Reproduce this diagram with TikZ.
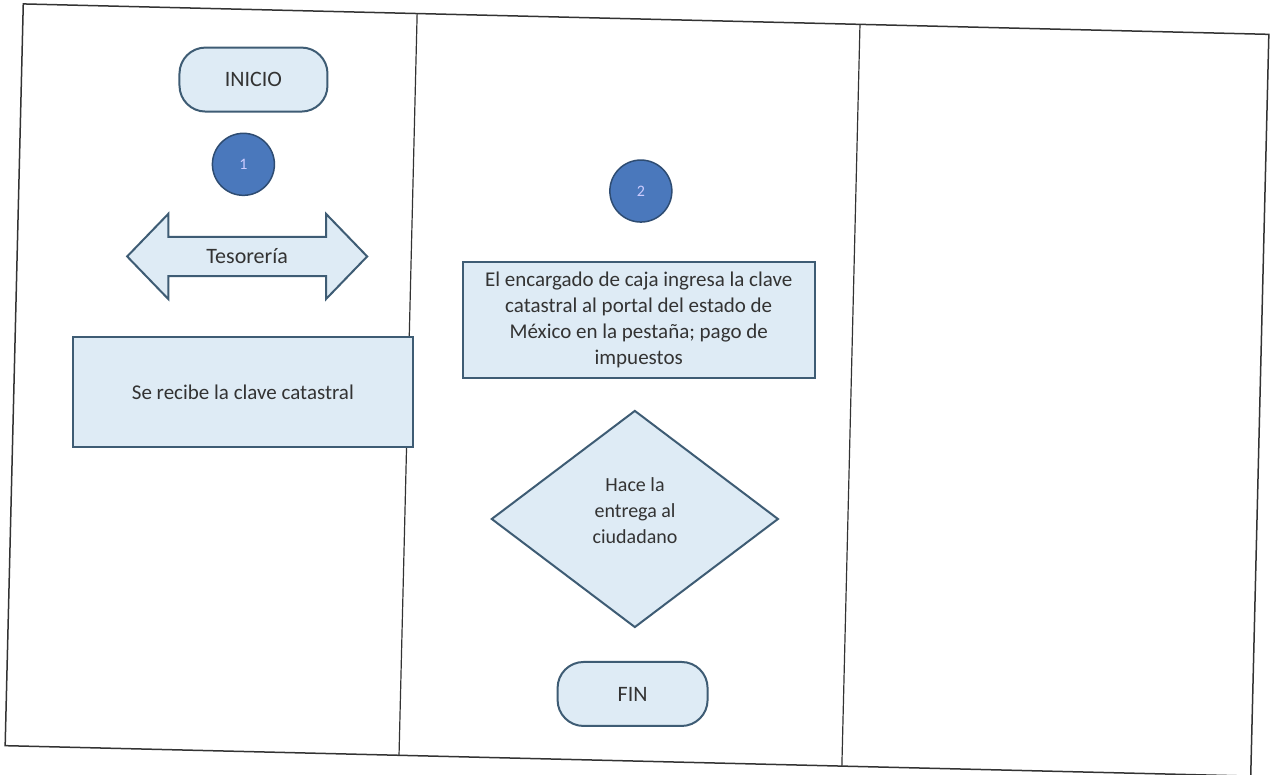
\documentclass[tikz,border=0pt]{standalone}
\usepackage{fontspec}
\setmainfont{Carlito}
\usetikzlibrary{shapes.geometric,shapes.arrows}
\definecolor{boxfill}{HTML}{DEEBF5}
\definecolor{boxline}{HTML}{3E5C74}
\definecolor{dotfill}{HTML}{4A78BC}
\definecolor{dotline}{HTML}{2E4C72}
\definecolor{frameline}{HTML}{333333}
\begin{document}
\begin{tikzpicture}[x=1pt,y=-1pt,
  shapeline/.style={draw=boxline,line width=2pt,fill=boxfill},
  term/.style={shapeline,rounded corners=26pt,minimum width=148pt,minimum height=64pt,font=\fontsize{22}{24}\selectfont,text=black!80},
  procbox/.style={shapeline,rectangle,align=center,font=\fontsize{21}{26}\selectfont,text=black!80},
  dot/.style={circle,draw=dotline,line width=1.5pt,fill=dotfill,minimum size=62pt,inner sep=0,text=white!80!blue,font=\fontsize{16}{18}\selectfont},
  lane/.style={draw=frameline,line width=1.5pt}]
\useasboundingbox (0,0) rectangle (1274,774);
\fill[white] (0,0) rectangle (1274,774);
\begin{scope}[rotate around={-1.4:(637,390)}]
  % frame and lanes
  \draw[lane] (14,19) rectangle (1260,761);
  \draw[lane,line width=1.2pt] (408,19) -- (408,761);
  \draw[lane,line width=1.2pt] (851,19) -- (851,761);
  % lane 1
  \node[term] (inicio) at (246,89) {INICIO};
  \node[dot] (n1) at (238,174) {1};
  \node[double arrow,shapeline,minimum height=240pt,inner xsep=2pt,inner ysep=11pt,
        double arrow head extend=23pt,double arrow tip angle=92,
        font=\fontsize{22}{24}\selectfont,text=black!80] (tes) at (244,266) {Tesorería};
  \node[procbox,minimum width=340pt,minimum height=110pt] (recibe) at (243,402) {Se recibe la clave catastral};
  % lane 2
  \node[dot] (n2) at (636,191) {2};
  \node[procbox,minimum width=352pt,minimum height=116pt] (ingresa) at (637,320)
    {El encargado de caja ingresa la clave\\catastral al portal del estado de\\México en la pestaña; pago de\\impuestos};
  \node[diamond,shapeline,minimum width=287pt,minimum height=217pt,inner sep=0] (entrega) at (638,519) {};
  \node[align=center,font=\fontsize{20}{26}\selectfont,text=black!80] (entregatxt) at (638,511)
    {Hace la\\entrega al\\ciudadano};
  \node[term,minimum width=150pt] (fin) at (640,694) {FIN};
\end{scope}
\end{tikzpicture}
\end{document}
